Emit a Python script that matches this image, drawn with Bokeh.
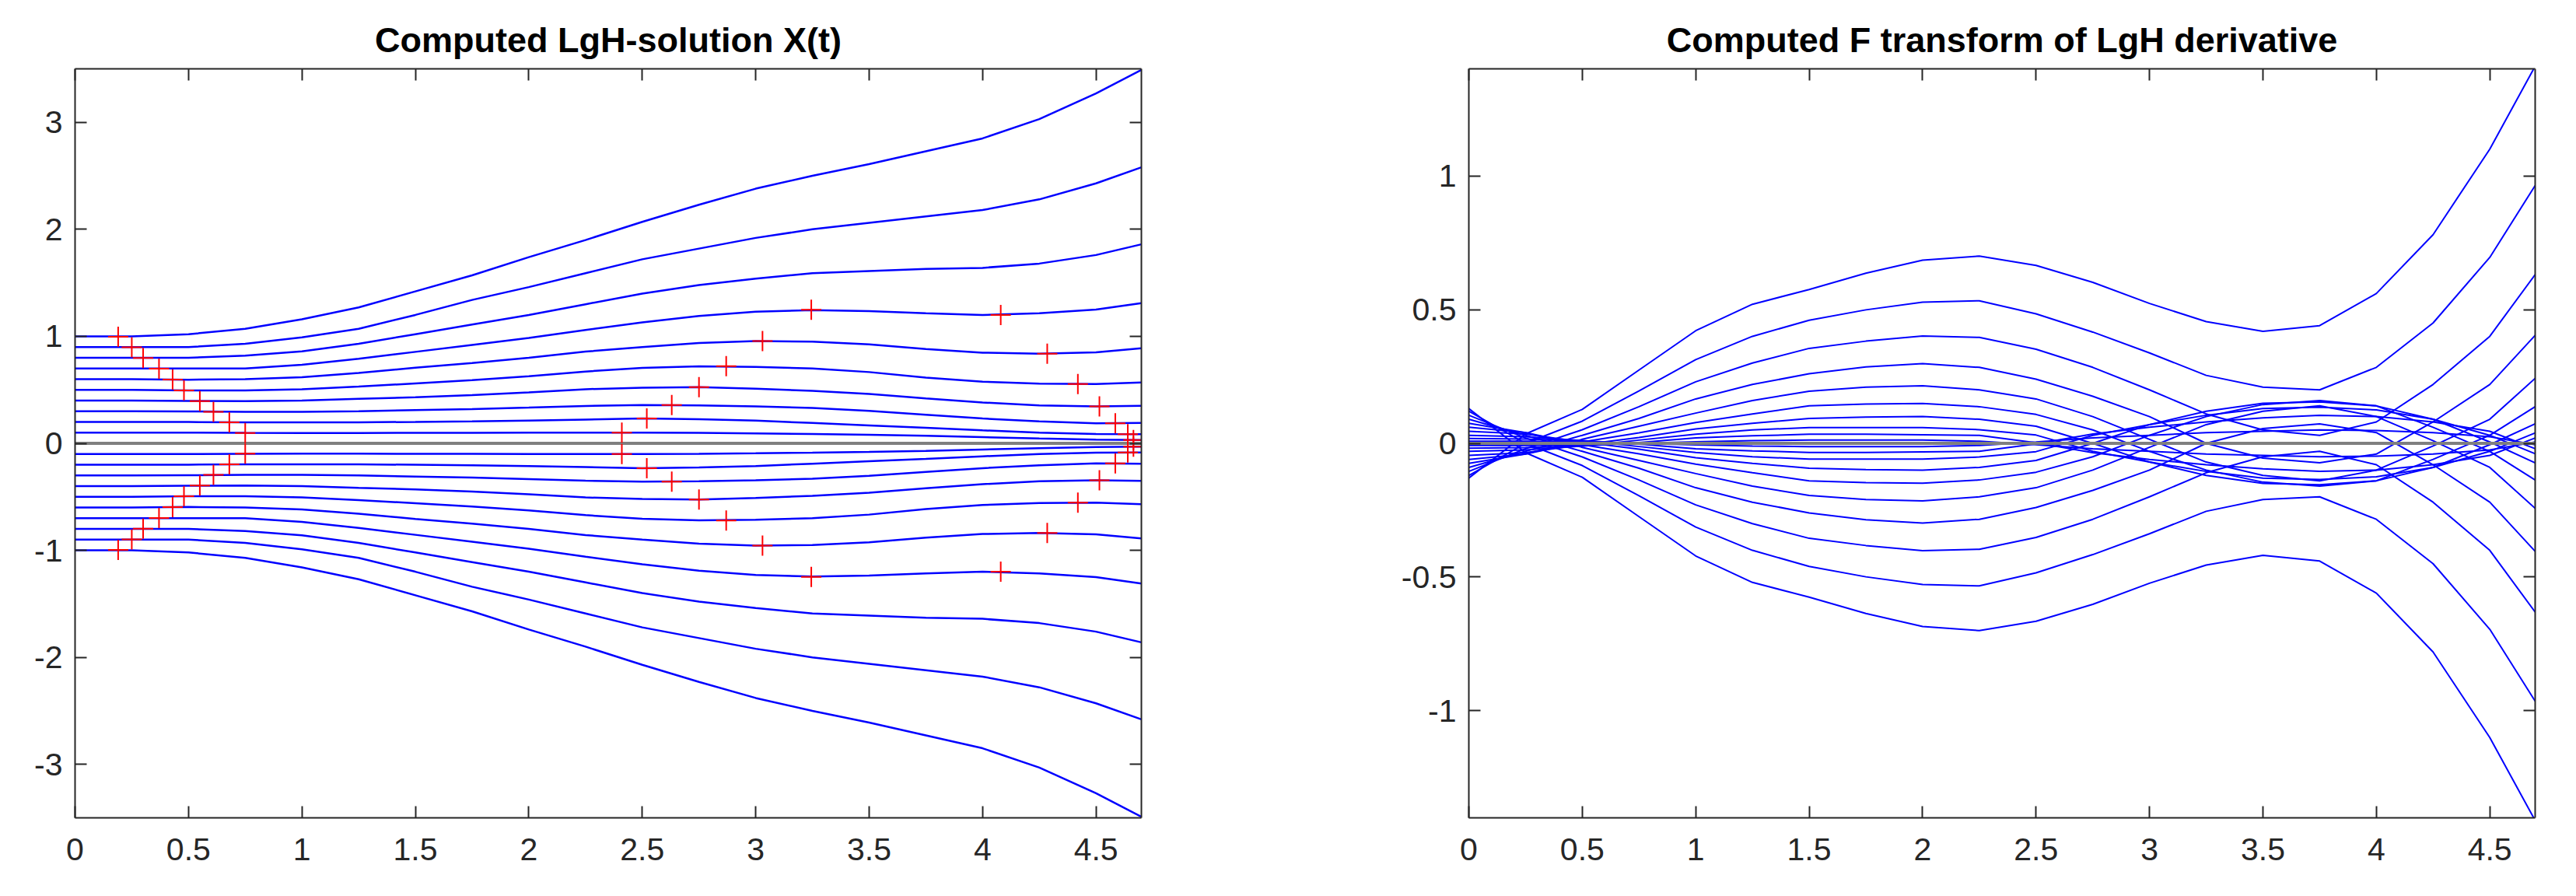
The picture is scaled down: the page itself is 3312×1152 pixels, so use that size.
from bokeh.plotting import figure
from bokeh.layouts import row
from bokeh.models import LinearAxis, FixedTicker, Range1d
from bokeh.embed import file_html
from bokeh.resources import INLINE

# ---------------- data ----------------
t = [0.0, 0.25, 0.5, 0.75, 1.0, 1.25, 1.5, 1.75, 2.0, 2.25, 2.5, 2.75,
     3.0, 3.25, 3.5, 3.75, 4.0, 4.25, 4.5, 4.7]

# Left panel: computed LgH-solution X(t), one curve per start value
X_p10 = [1.00, 1.00, 1.02, 1.07, 1.16, 1.27, 1.42, 1.57, 1.74, 1.90, 2.07, 2.23, 2.38, 2.50, 2.61, 2.73, 2.85, 3.03, 3.27, 3.49]
X_p09 = [0.90, 0.90, 0.90, 0.93, 0.99, 1.07, 1.20, 1.34, 1.46, 1.59, 1.72, 1.82, 1.92, 2.00, 2.06, 2.12, 2.18, 2.28, 2.43, 2.58]
X_p08 = [0.80, 0.80, 0.80, 0.82, 0.86, 0.93, 1.02, 1.11, 1.20, 1.30, 1.40, 1.48, 1.54, 1.59, 1.61, 1.63, 1.64, 1.68, 1.76, 1.86]
X_p07 = [0.70, 0.70, 0.70, 0.70, 0.735, 0.79, 0.855, 0.92, 0.985, 1.06, 1.13, 1.19, 1.23, 1.245, 1.235, 1.215, 1.20, 1.215, 1.25, 1.31]
X_p06 = [0.60, 0.60, 0.595, 0.60, 0.617, 0.658, 0.707, 0.75, 0.80, 0.857, 0.90, 0.937, 0.955, 0.95, 0.925, 0.881, 0.847, 0.838, 0.85, 0.889]
X_p05 = [0.50, 0.50, 0.495, 0.495, 0.506, 0.53, 0.56, 0.59, 0.627, 0.671, 0.705, 0.72, 0.714, 0.70, 0.666, 0.615, 0.576, 0.557, 0.555, 0.569]
X_p04 = [0.40, 0.40, 0.397, 0.395, 0.40, 0.416, 0.43, 0.45, 0.477, 0.506, 0.52, 0.525, 0.51, 0.49, 0.462, 0.42, 0.382, 0.355, 0.346, 0.35]
X_p03 = [0.30, 0.30, 0.298, 0.295, 0.295, 0.30, 0.31, 0.32, 0.334, 0.349, 0.358, 0.355, 0.345, 0.33, 0.303, 0.268, 0.232, 0.205, 0.188, 0.19]
X_p02 = [0.20, 0.20, 0.199, 0.197, 0.196, 0.197, 0.20, 0.205, 0.213, 0.222, 0.232, 0.225, 0.212, 0.19, 0.168, 0.145, 0.121, 0.10, 0.088, 0.085]
X_p01 = [0.10, 0.10, 0.10, 0.098, 0.097, 0.097, 0.098, 0.099, 0.10, 0.10, 0.10, 0.098, 0.093, 0.087, 0.08, 0.07, 0.058, 0.045, 0.035, 0.03]
X_000 = [0.0] * 20
X_m01 = [-0.10, -0.10, -0.10, -0.098, -0.097, -0.097, -0.098, -0.099, -0.10, -0.10, -0.10, -0.098, -0.093, -0.087, -0.08, -0.07, -0.058, -0.045, -0.035, -0.03]
X_m02 = [-0.20, -0.20, -0.199, -0.197, -0.196, -0.197, -0.20, -0.205, -0.213, -0.222, -0.232, -0.225, -0.212, -0.19, -0.168, -0.145, -0.121, -0.10, -0.088, -0.085]
X_m03 = [-0.30, -0.30, -0.298, -0.295, -0.295, -0.30, -0.31, -0.32, -0.334, -0.349, -0.358, -0.355, -0.345, -0.33, -0.303, -0.268, -0.232, -0.205, -0.188, -0.19]
X_m04 = [-0.40, -0.40, -0.397, -0.395, -0.40, -0.416, -0.43, -0.45, -0.477, -0.506, -0.52, -0.525, -0.51, -0.49, -0.462, -0.42, -0.382, -0.355, -0.346, -0.35]
X_m05 = [-0.50, -0.50, -0.495, -0.495, -0.506, -0.53, -0.56, -0.59, -0.627, -0.671, -0.705, -0.72, -0.714, -0.70, -0.666, -0.615, -0.576, -0.557, -0.555, -0.569]
X_m06 = [-0.60, -0.60, -0.595, -0.60, -0.617, -0.658, -0.707, -0.75, -0.80, -0.857, -0.90, -0.937, -0.955, -0.95, -0.925, -0.881, -0.847, -0.838, -0.85, -0.889]
X_m07 = [-0.70, -0.70, -0.70, -0.70, -0.735, -0.79, -0.855, -0.92, -0.985, -1.06, -1.13, -1.19, -1.23, -1.245, -1.235, -1.215, -1.20, -1.215, -1.25, -1.31]
X_m08 = [-0.80, -0.80, -0.80, -0.82, -0.86, -0.93, -1.02, -1.11, -1.20, -1.30, -1.40, -1.48, -1.54, -1.59, -1.61, -1.63, -1.64, -1.68, -1.76, -1.86]
X_m09 = [-0.90, -0.90, -0.90, -0.93, -0.99, -1.07, -1.20, -1.34, -1.46, -1.59, -1.72, -1.82, -1.92, -2.00, -2.06, -2.12, -2.18, -2.28, -2.43, -2.58]
X_m10 = [-1.00, -1.00, -1.02, -1.07, -1.16, -1.27, -1.42, -1.57, -1.74, -1.90, -2.07, -2.23, -2.38, -2.50, -2.61, -2.73, -2.85, -3.03, -3.27, -3.49]

# Red '+' marks (extrema of X)
mark_t = [0.19, 0.25, 0.30, 0.37, 0.43, 0.48, 0.55, 0.61, 0.68, 0.75,
          0.19, 0.25, 0.30, 0.37, 0.43, 0.48, 0.55, 0.61, 0.68, 0.75,
          2.41, 2.52, 2.63, 2.75, 2.87, 3.03, 3.245,
          2.41, 2.52, 2.63, 2.75, 2.87, 3.03, 3.245,
          4.08, 4.285, 4.42, 4.515, 4.585, 4.64, 4.665,
          4.08, 4.285, 4.42, 4.515, 4.585, 4.64, 4.665]
mark_x = [0.995, 0.897, 0.797, 0.697, 0.596, 0.495, 0.395, 0.295, 0.196, 0.097,
          -0.995, -0.897, -0.797, -0.697, -0.596, -0.495, -0.395, -0.295, -0.196, -0.097,
          0.10, 0.232, 0.358, 0.525, 0.722, 0.956, 1.248,
          -0.10, -0.232, -0.358, -0.525, -0.722, -0.956, -1.248,
          1.20, 0.838, 0.555, 0.345, 0.187, 0.085, 0.03,
          -1.20, -0.838, -0.555, -0.345, -0.187, -0.085, -0.03]

# Right panel: computed F transform of LgH derivative
F_p10 = [-0.13, 0.035, 0.127, 0.274, 0.421, 0.52, 0.575, 0.636, 0.685, 0.70, 0.665, 0.602, 0.523, 0.455, 0.419, 0.44, 0.56, 0.78, 1.10, 1.41]
F_p09 = [-0.12, 0.0, 0.083, 0.196, 0.313, 0.40, 0.46, 0.499, 0.528, 0.533, 0.484, 0.416, 0.338, 0.254, 0.21, 0.20, 0.284, 0.45, 0.695, 0.964]
F_p08 = [-0.105, -0.02, 0.051, 0.137, 0.23, 0.30, 0.355, 0.382, 0.401, 0.396, 0.352, 0.284, 0.20, 0.11, 0.05, 0.03, 0.08, 0.22, 0.40, 0.631]
F_p07 = [-0.09, -0.03, 0.03, 0.093, 0.166, 0.22, 0.26, 0.286, 0.298, 0.284, 0.24, 0.176, 0.10, 0.0, -0.055, -0.073, -0.04, 0.08, 0.22, 0.404]
F_p06 = [-0.075, -0.04, 0.015, 0.064, 0.113, 0.16, 0.195, 0.21, 0.215, 0.20, 0.166, 0.10, 0.015, -0.07, -0.12, -0.14, -0.10, -0.01, 0.09, 0.243]
F_p05 = [-0.06, -0.04, 0.005, 0.039, 0.078, 0.11, 0.14, 0.147, 0.149, 0.137, 0.108, 0.05, -0.03, -0.10, -0.145, -0.16, -0.14, -0.06, 0.03, 0.137]
F_p04 = [-0.045, -0.035, -0.005, 0.022, 0.054, 0.075, 0.093, 0.098, 0.10, 0.09, 0.064, 0.0, -0.07, -0.12, -0.15, -0.155, -0.14, -0.09, -0.005, 0.073]
F_p03 = [-0.03, -0.025, -0.01, 0.012, 0.034, 0.05, 0.059, 0.059, 0.059, 0.051, 0.031, -0.03, -0.07, -0.105, -0.13, -0.135, -0.125, -0.09, -0.03, 0.039]
F_p02 = [-0.018, -0.016, -0.01, 0.003, 0.02, 0.028, 0.034, 0.034, 0.032, 0.03, 0.002, -0.035, -0.06, -0.08, -0.095, -0.105, -0.10, -0.08, -0.045, 0.02]
F_p01 = [-0.008, -0.008, -0.006, 0.0, 0.006, 0.01, 0.012, 0.012, 0.012, 0.008, -0.005, -0.02, -0.03, -0.04, -0.045, -0.05, -0.048, -0.04, -0.025, 0.005]
F_000 = [0.0] * 20
F_m01 = [0.008, 0.008, 0.006, 0.0, -0.006, -0.01, -0.012, -0.012, -0.012, -0.008, 0.005, 0.02, 0.03, 0.04, 0.045, 0.05, 0.048, 0.04, 0.025, -0.005]
F_m02 = [0.018, 0.016, 0.01, -0.003, -0.02, -0.028, -0.034, -0.034, -0.032, -0.03, -0.002, 0.035, 0.06, 0.08, 0.095, 0.105, 0.10, 0.08, 0.045, -0.02]
F_m03 = [0.03, 0.025, 0.01, -0.012, -0.034, -0.05, -0.059, -0.059, -0.059, -0.051, -0.031, 0.03, 0.07, 0.105, 0.13, 0.135, 0.125, 0.09, 0.03, -0.039]
F_m04 = [0.045, 0.035, 0.005, -0.022, -0.054, -0.075, -0.093, -0.098, -0.10, -0.09, -0.064, 0.0, 0.07, 0.12, 0.15, 0.155, 0.14, 0.09, 0.005, -0.073]
F_m05 = [0.06, 0.04, -0.005, -0.039, -0.078, -0.11, -0.14, -0.147, -0.149, -0.137, -0.108, -0.05, 0.03, 0.10, 0.145, 0.16, 0.14, 0.06, -0.03, -0.137]
F_m06 = [0.075, 0.04, -0.015, -0.064, -0.113, -0.16, -0.195, -0.21, -0.215, -0.20, -0.166, -0.10, -0.015, 0.07, 0.12, 0.14, 0.10, 0.01, -0.09, -0.243]
F_m07 = [0.09, 0.03, -0.03, -0.093, -0.166, -0.22, -0.26, -0.286, -0.298, -0.284, -0.24, -0.176, -0.10, 0.0, 0.055, 0.073, 0.04, -0.08, -0.22, -0.404]
F_m08 = [0.105, 0.02, -0.051, -0.137, -0.23, -0.30, -0.355, -0.382, -0.401, -0.396, -0.352, -0.284, -0.20, -0.11, -0.05, -0.03, -0.08, -0.22, -0.40, -0.631]
F_m09 = [0.12, 0.0, -0.083, -0.196, -0.313, -0.40, -0.46, -0.499, -0.528, -0.533, -0.484, -0.416, -0.338, -0.254, -0.21, -0.20, -0.284, -0.45, -0.695, -0.964]
F_m10 = [0.13, -0.035, -0.127, -0.274, -0.421, -0.52, -0.575, -0.636, -0.685, -0.70, -0.665, -0.602, -0.523, -0.455, -0.419, -0.44, -0.56, -0.78, -1.10, -1.41]

# Axes
x_ticks = [0, 0.5, 1, 1.5, 2, 2.5, 3, 3.5, 4, 4.5]
x_tick_labels = ["0", "0.5", "1", "1.5", "2", "2.5", "3", "3.5", "4", "4.5"]
yL_ticks = [-3, -2, -1, 0, 1, 2, 3]
yL_tick_labels = ["-3", "-2", "-1", "0", "1", "2", "3"]
yR_ticks = [-1, -0.5, 0, 0.5, 1]
yR_tick_labels = ["-1", "-0.5", "0", "0.5", "1"]
title_left = "Computed LgH-solution X(t)"
title_right = "Computed F transform of LgH derivative"

X_curves = [X_m10, X_m09, X_m08, X_m07, X_m06, X_m05, X_m04, X_m03, X_m02, X_m01,
            X_p01, X_p02, X_p03, X_p04, X_p05, X_p06, X_p07, X_p08, X_p09, X_p10]
F_curves = [F_m10, F_m09, F_m08, F_m07, F_m06, F_m05, F_m04, F_m03, F_m02, F_m01,
            F_p01, F_p02, F_p03, F_p04, F_p05, F_p06, F_p07, F_p08, F_p09, F_p10]

AX = "#262626"
FONT = "Liberation Sans"


def styled_figure(width, height, yr, title, yticks, ylabels, bl, br):
    p = figure(width=width, height=height, output_backend="svg", toolbar_location=None,
               x_range=Range1d(0, 4.7), y_range=Range1d(*yr),
               min_border_left=bl, min_border_right=br, min_border_top=88, min_border_bottom=80)
    p.title.text = title
    p.title.align = "center"
    p.title.text_font = FONT
    p.title.text_font_size = "45px"
    p.title.text_font_style = "bold"
    p.title.text_color = "black"
    p.title.standoff = 24
    p.grid.visible = False
    p.outline_line_color = None
    p.background_fill_color = "white"
    p.border_fill_color = "white"
    xlab = dict(zip(x_ticks, x_tick_labels))
    ylab = dict(zip(yticks, ylabels))
    for ax, lab, tk in ((p.xaxis[0], xlab, x_ticks), (p.yaxis[0], ylab, yticks)):
        ax.ticker = FixedTicker(ticks=tk)
        ax.major_label_overrides = lab
        ax.major_label_text_font = FONT
        ax.major_label_text_font_size = "41px"
        ax.major_label_text_color = AX
    p.xaxis.major_label_standoff = 26
    p.yaxis.major_label_standoff = 16
    # mirrored tick marks on the top and right edges (no labels drawn)
    top = LinearAxis(ticker=FixedTicker(ticks=x_ticks), major_label_text_font_size="1px",
                     major_label_text_color=None, major_label_standoff=0)
    right = LinearAxis(ticker=FixedTicker(ticks=yticks), major_label_text_font_size="1px",
                       major_label_text_color=None, major_label_standoff=0)
    p.add_layout(top, "above")
    p.add_layout(right, "right")
    for ax in p.axis:
        ax.axis_line_color = AX
        ax.axis_line_width = 2
        ax.major_tick_line_color = AX
        ax.major_tick_line_width = 2
        ax.major_tick_in = 15
        ax.major_tick_out = 0
        ax.minor_tick_line_color = None
    return p


p1 = styled_figure(1788, 1131, (-3.5, 3.5), title_left, yL_ticks, yL_tick_labels, 96, 321)
for c in X_curves:
    p1.line(t, c, line_color="#0000ff", line_width=2.5)
p1.line(t, X_000, line_color="#7f7f7f", line_width=4)
p1.scatter(mark_t, mark_x, marker="cross", size=26, line_color="#ff0000", line_width=2)

p2 = styled_figure(1511, 1131, (-1.4, 1.4), title_right, yR_ticks, yR_tick_labels, 100, 40)
for c in F_curves:
    p2.line(t, c, line_color="#0000ff", line_width=2)
p2.line(t, F_000, line_color="#7f7f7f", line_width=4)

layout = row(p1, p2)
open("out.html", "w").write(file_html(layout, INLINE))
